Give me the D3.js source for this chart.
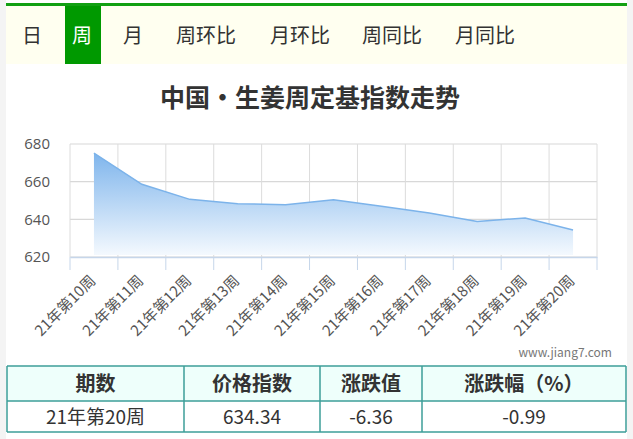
<!DOCTYPE html><html><head><meta charset="utf-8"><script src="https://cdn.jsdelivr.net/npm/d3@7"></script>
<style>body{margin:0;background:#fff;font-family:"Noto Sans CJK SC","Noto Sans",sans-serif}</style></head><body><script>
const tabs=["日","周","月","周环比","月环比","周同比","月同比"];
const categories=["21年第10周","21年第11周","21年第12周","21年第13周","21年第14周","21年第15周","21年第16周","21年第17周","21年第18周","21年第19周","21年第20周"];
const values=[675.2,658.6,650.6,648.3,647.8,650.4,647.0,643.4,638.9,640.7,634.34];
const yTicks=[620,640,660,680];
const tableHead=["期数","价格指数","涨跌值","涨跌幅（%）"];
const tableRow=["21年第20周","634.34","-6.36","-0.99"];

const W=633,H=439;
const svg=d3.select("body").append("svg").attr("width",W).attr("height",H);
svg.append("rect").attr("width",W).attr("height",H).attr("fill","#f4f4f4");
svg.append("rect").attr("x",6).attr("width",W-12).attr("height",H).attr("fill","#fff");
svg.append("rect").attr("x",6).attr("y",3).attr("width",W-12).attr("height",3).attr("fill","#12a012");
svg.append("rect").attr("x",6).attr("y",6).attr("width",W-12).attr("height",58).attr("fill","#fffff0");
const tabX=[32,82,133,206,300,392,485];
tabs.forEach((t,i)=>{
  if(i===1)svg.append("rect").attr("x",65).attr("y",6).attr("width",36).attr("height",58).attr("fill","#009900");
  svg.append("text").attr("x",tabX[i]).attr("y",43).attr("text-anchor","middle").attr("font-size",20)
   .attr("fill",i===1?"#fff":"#333").text(t);
});
svg.append("text").attr("x",310).attr("y",107).attr("text-anchor","middle").attr("font-size",25).attr("font-weight","bold").attr("fill","#333").text("中国·生姜周定基指数走势");

const x=d3.scaleBand().domain(categories).range([70,597]);
const y=d3.scaleLinear().domain([620,680]).range([257,144]);
const g=svg.append("g");
g.selectAll(".hg").data(yTicks).join("line").attr("x1",70).attr("x2",597).attr("y1",d=>y(d)).attr("y2",d=>y(d)).attr("stroke","#d8d8d8").attr("stroke-width",1.2);
const vx=categories.map(c=>x(c)).concat([597]);
g.selectAll(".vg").data(vx).join("line").attr("x1",d=>d).attr("x2",d=>d).attr("y1",144).attr("y2",257).attr("stroke","#dcdcdc");
const grad=svg.append("defs").append("linearGradient").attr("id","gr").attr("x1",0).attr("y1",0).attr("x2",0).attr("y2",1);
grad.append("stop").attr("offset","0%").attr("stop-color","#7fb5ec");
grad.append("stop").attr("offset","100%").attr("stop-color","#f4f9fe");
const cx=c=>x(c)+x.bandwidth()/2;
const area=d3.area().x((d,i)=>cx(categories[i])).y0(y(621)).y1(d=>y(d));
g.append("path").datum(values).attr("d",area).attr("fill","url(#gr)");
g.append("path").datum(values).attr("d",d3.line().x((d,i)=>cx(categories[i])).y(d=>y(d))).attr("fill","none").attr("stroke","#7cb3ea").attr("stroke-width",1.5);
const ax=g.append("g").attr("transform","translate(0,257)").call(d3.axisBottom(x).tickSize(13).tickSizeOuter(0));
ax.select(".domain").attr("stroke","#c6d6ea").attr("stroke-width",1.5);
ax.selectAll(".tick line").attr("stroke","#c6d6ea").attr("transform",`translate(${-x.bandwidth()/2},0)`);
ax.append("line").attr("x1",597).attr("x2",597).attr("y1",0).attr("y2",13).attr("stroke","#c6d6ea");
ax.selectAll(".tick text").attr("font-size",15).attr("fill","#555").attr("font-family","Noto Sans CJK SC")
  .attr("text-anchor","end").attr("transform","translate(-14,8) rotate(-45)").attr("dy","0.5em");
const ay=g.append("g").attr("transform","translate(70,0)").call(d3.axisLeft(y).tickValues(yTicks).tickSize(0));
ay.select(".domain").remove();
ay.selectAll("text").attr("font-size",15).attr("fill","#555").attr("x",-20).attr("font-family","Open Sans");

svg.append("text").attr("x",612).attr("y",357).attr("text-anchor","end").attr("font-size",12).attr("fill","#777").text("www.jiang7.com");
const cols=[7,184,320,422,626];
svg.append("rect").attr("x",7).attr("y",366).attr("width",619).attr("height",35).attr("fill","#eefffb");
[366,401,432].forEach(v=>svg.append("line").attr("x1",7).attr("x2",626).attr("y1",v).attr("y2",v).attr("stroke","#3d9e98").attr("stroke-width",1.5));
cols.forEach(c=>svg.append("line").attr("x1",c).attr("x2",c).attr("y1",366).attr("y2",432).attr("stroke","#3d9e98").attr("stroke-width",1.5));
tableHead.forEach((t,i)=>svg.append("text").attr("x",(cols[i]+cols[i+1])/2).attr("y",391).attr("text-anchor","middle").attr("font-size",20).attr("font-weight","bold").attr("fill","#333").text(t));
tableRow.forEach((t,i)=>svg.append("text").attr("x",(cols[i]+cols[i+1])/2).attr("y",424).attr("text-anchor","middle").attr("font-size",19).attr("fill","#333").text(t));
</script></body></html>
